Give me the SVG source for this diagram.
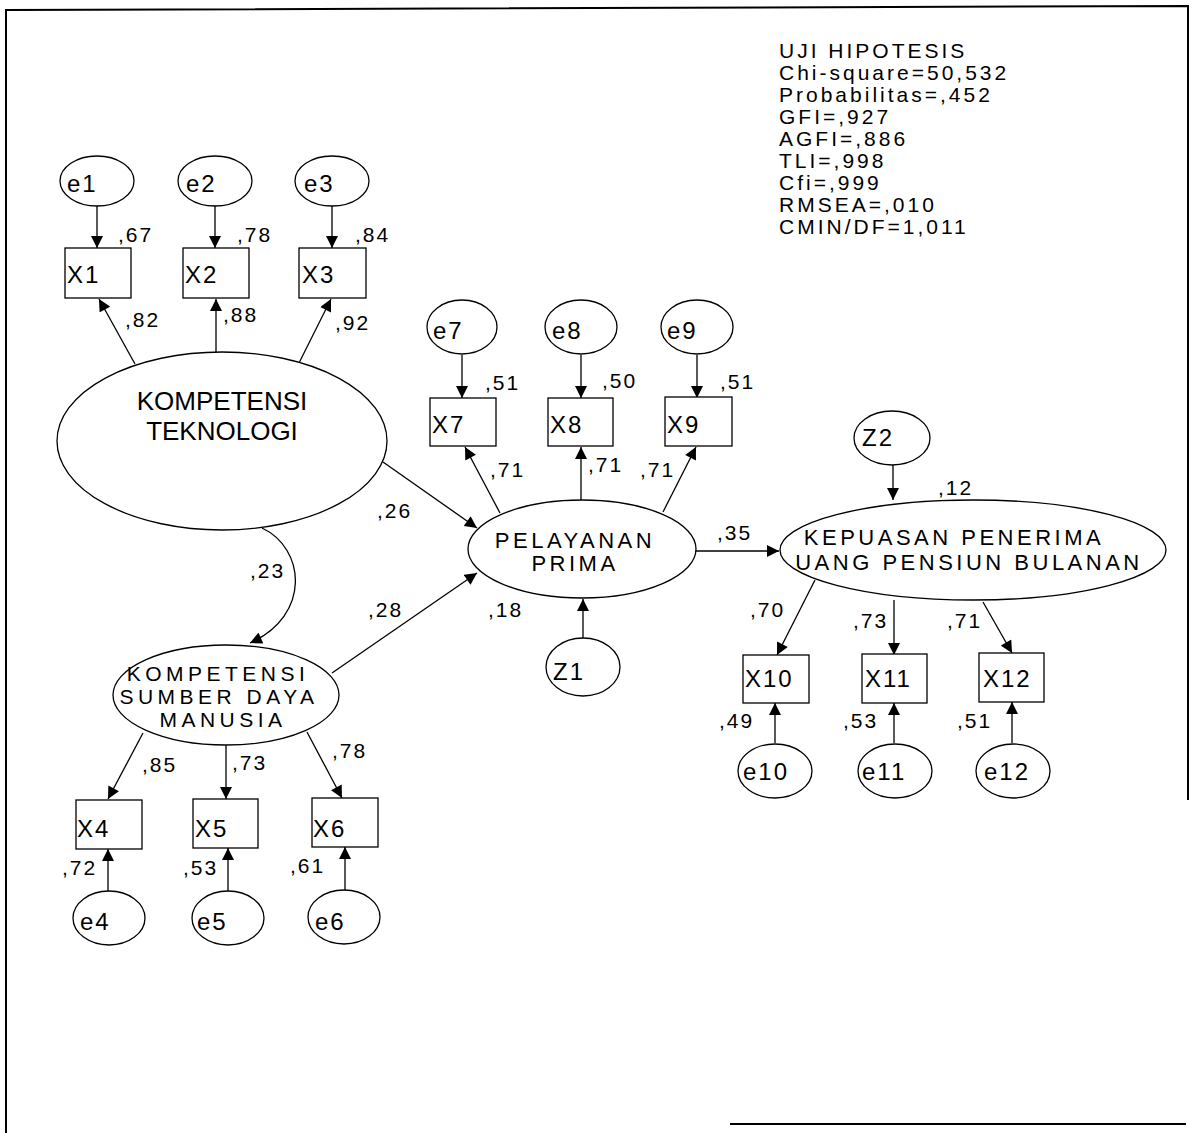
<svg xmlns="http://www.w3.org/2000/svg" width="1192" height="1133" viewBox="0 0 1192 1133">
<style>
.n{fill:#fff;stroke:#000;stroke-width:1.3}
.t{font-family:"Liberation Sans",Arial,sans-serif;font-size:24px;letter-spacing:2px;fill:#000}
.lt{font-family:"Liberation Sans",Arial,sans-serif;font-size:22px;letter-spacing:3.5px;fill:#000;text-anchor:middle}
.c{font-family:"Liberation Sans",Arial,sans-serif;font-size:21px;letter-spacing:2px;fill:#000}
.s{font-family:"Liberation Sans",Arial,sans-serif;font-size:21px;letter-spacing:3px;fill:#000}
.l{fill:none;stroke:#000;stroke-width:1.3;marker-end:url(#ah)}
.b{stroke:#000;stroke-width:2;fill:none}
</style>
<defs>
<marker id="ah" viewBox="0 0 10 10" refX="10" refY="5" markerWidth="13" markerHeight="12" markerUnits="userSpaceOnUse" orient="auto"><path d="M0,0 L10,5 L0,10 z" fill="#000"/></marker>
</defs>
<rect width="1192" height="1133" fill="#fff"/>
<g id="frame">
<path class="b" d="M6,1133 L6,10 L1188,6 L1188,800"/>
<path class="b" d="M730,1124 L1186,1124"/>
</g>
<g id="stats">
<text class="s" x="779" y="58">UJI HIPOTESIS</text>
<text class="s" x="779" y="80">Chi-square=50,532</text>
<text class="s" x="779" y="102">Probabilitas=,452</text>
<text class="s" x="779" y="124">GFI=,927</text>
<text class="s" x="779" y="146">AGFI=,886</text>
<text class="s" x="779" y="168">TLI=,998</text>
<text class="s" x="779" y="190">Cfi=,999</text>
<text class="s" x="779" y="212">RMSEA=,010</text>
<text class="s" x="779" y="234">CMIN/DF=1,011</text>
</g>
<g id="connectors">
<path class="l" d="M97,206 L97,248"/>
<path class="l" d="M215,206 L215,248"/>
<path class="l" d="M332,206 L332,248"/>
<path class="l" d="M135,364 L99,299"/>
<path class="l" d="M216,352 L216,299"/>
<path class="l" d="M297,367 L331,299"/>
<path class="l" d="M462,355 L462,398"/>
<path class="l" d="M581,355 L581,398"/>
<path class="l" d="M697,355 L697,398"/>
<path class="l" d="M500,513 L465,447"/>
<path class="l" d="M581,500 L581,447"/>
<path class="l" d="M663,512 L696,447"/>
<path class="l" d="M383,462 L477,528"/>
<path class="l" d="M332,673 L477,573"/>
<path class="l" d="M583,638 L583,599"/>
<path class="l" d="M695,551 L779,551"/>
<path class="l" d="M893,465 L893,500"/>
<path class="l" d="M815,580 L777,655"/>
<path class="l" d="M894,600 L894,655"/>
<path class="l" d="M983,602 L1012,653"/>
<path class="l" d="M775,743 L775,703"/>
<path class="l" d="M894,743 L894,703"/>
<path class="l" d="M1012,743 L1012,702"/>
<path class="l" d="M143,733 L108,799"/>
<path class="l" d="M226,745 L226,799"/>
<path class="l" d="M307,732 L342,798"/>
<path class="l" d="M108,891 L108,849"/>
<path class="l" d="M228,891 L228,848"/>
<path class="l" d="M345,890 L345,847"/>
<path class="l" d="M262,528 C305,548 312,615 250,643"/>
</g>
<g id="labels">
<text class="c" x="118" y="242">,67</text>
<text class="c" x="237" y="242">,78</text>
<text class="c" x="355" y="242">,84</text>
<text class="c" x="125" y="327">,82</text>
<text class="c" x="223" y="322">,88</text>
<text class="c" x="335" y="330">,92</text>
<text class="c" x="485" y="390">,51</text>
<text class="c" x="602" y="388">,50</text>
<text class="c" x="720" y="389">,51</text>
<text class="c" x="490" y="477">,71</text>
<text class="c" x="588" y="472">,71</text>
<text class="c" x="640" y="477">,71</text>
<text class="c" x="377" y="518">,26</text>
<text class="c" x="250" y="578">,23</text>
<text class="c" x="368" y="617">,28</text>
<text class="c" x="488" y="617">,18</text>
<text class="c" x="717" y="540">,35</text>
<text class="c" x="938" y="495">,12</text>
<text class="c" x="750" y="617">,70</text>
<text class="c" x="853" y="628">,73</text>
<text class="c" x="947" y="628">,71</text>
<text class="c" x="719" y="728">,49</text>
<text class="c" x="843" y="728">,53</text>
<text class="c" x="957" y="728">,51</text>
<text class="c" x="142" y="772">,85</text>
<text class="c" x="232" y="770">,73</text>
<text class="c" x="332" y="758">,78</text>
<text class="c" x="62" y="875">,72</text>
<text class="c" x="183" y="875">,53</text>
<text class="c" x="290" y="873">,61</text>
</g>
<g id="e1"><ellipse class="n" cx="97" cy="181" rx="37" ry="25"/><text class="t" x="67" y="192">e1</text></g>
<g id="e2"><ellipse class="n" cx="215" cy="181" rx="37" ry="25"/><text class="t" x="186" y="192">e2</text></g>
<g id="e3"><ellipse class="n" cx="332" cy="181" rx="37" ry="25"/><text class="t" x="304" y="192">e3</text></g>
<g id="X1"><rect class="n" x="65" y="248" width="66" height="50"/><text class="t" x="67" y="283">X1</text></g>
<g id="X2"><rect class="n" x="183" y="248" width="66" height="50"/><text class="t" x="185" y="283">X2</text></g>
<g id="X3"><rect class="n" x="299" y="248" width="67" height="50"/><text class="t" x="302" y="283">X3</text></g>
<g id="KT"><ellipse class="n" cx="222" cy="441" rx="165" ry="89"/><text class="t" x="222" y="410" style="font-size:26px;letter-spacing:0;text-anchor:middle">KOMPETENSI</text><text class="t" x="222" y="440" style="font-size:26px;letter-spacing:0;text-anchor:middle">TEKNOLOGI</text></g>
<g id="e7"><ellipse class="n" cx="462" cy="327" rx="35" ry="27"/><text class="t" x="433" y="339">e7</text></g>
<g id="e8"><ellipse class="n" cx="581" cy="327" rx="36" ry="27"/><text class="t" x="552" y="339">e8</text></g>
<g id="e9"><ellipse class="n" cx="697" cy="327" rx="36" ry="27"/><text class="t" x="667" y="339">e9</text></g>
<g id="X7"><rect class="n" x="430" y="398" width="66" height="48"/><text class="t" x="432" y="433">X7</text></g>
<g id="X8"><rect class="n" x="548" y="398" width="65" height="48"/><text class="t" x="550" y="433">X8</text></g>
<g id="X9"><rect class="n" x="665" y="397" width="67" height="49"/><text class="t" x="667" y="433">X9</text></g>
<g id="PP"><ellipse class="n" cx="582" cy="549" rx="114" ry="49"/><text class="lt" x="575" y="548">PELAYANAN</text><text class="lt" x="575" y="571">PRIMA</text></g>
<g id="Z1"><ellipse class="n" cx="583" cy="667" rx="37" ry="29"/><text class="t" x="553" y="680">Z1</text></g>
<g id="Z2"><ellipse class="n" cx="892" cy="438" rx="38" ry="27"/><text class="t" x="862" y="446">Z2</text></g>
<g id="KEP"><ellipse class="n" cx="973" cy="550" rx="193" ry="50"/><text class="lt" x="954" y="545">KEPUASAN PENERIMA</text><text class="lt" x="969" y="570">UANG PENSIUN BULANAN</text></g>
<g id="X10"><rect class="n" x="743" y="655" width="66" height="48"/><text class="t" x="745" y="687">X10</text></g>
<g id="X11"><rect class="n" x="862" y="654" width="65" height="49"/><text class="t" x="865" y="687">X11</text></g>
<g id="X12"><rect class="n" x="979" y="653" width="65" height="49"/><text class="t" x="983" y="687">X12</text></g>
<g id="e10"><ellipse class="n" cx="775" cy="771" rx="37" ry="27"/><text class="t" x="743" y="780">e10</text></g>
<g id="e11"><ellipse class="n" cx="895" cy="771" rx="37" ry="27"/><text class="t" x="862" y="780">e11</text></g>
<g id="e12"><ellipse class="n" cx="1013" cy="771" rx="37" ry="27"/><text class="t" x="984" y="780">e12</text></g>
<g id="KSDM"><ellipse class="n" cx="226" cy="695" rx="113" ry="50"/><text class="lt" x="218" y="681" style="font-size:21px;letter-spacing:4.5px">KOMPETENSI</text><text class="lt" x="219" y="704" style="font-size:21px;letter-spacing:4.5px">SUMBER DAYA</text><text class="lt" x="223" y="727" style="font-size:21px;letter-spacing:4.5px">MANUSIA</text></g>
<g id="X4"><rect class="n" x="76" y="800" width="66" height="49"/><text class="t" x="77" y="837">X4</text></g>
<g id="X5"><rect class="n" x="193" y="799" width="65" height="49"/><text class="t" x="195" y="837">X5</text></g>
<g id="X6"><rect class="n" x="312" y="798" width="66" height="49"/><text class="t" x="313" y="837">X6</text></g>
<g id="e4"><ellipse class="n" cx="109" cy="918" rx="36" ry="27"/><text class="t" x="80" y="930">e4</text></g>
<g id="e5"><ellipse class="n" cx="228" cy="918" rx="36" ry="27"/><text class="t" x="197" y="930">e5</text></g>
<g id="e6"><ellipse class="n" cx="344" cy="917" rx="36" ry="27"/><text class="t" x="315" y="930">e6</text></g>
</svg>
